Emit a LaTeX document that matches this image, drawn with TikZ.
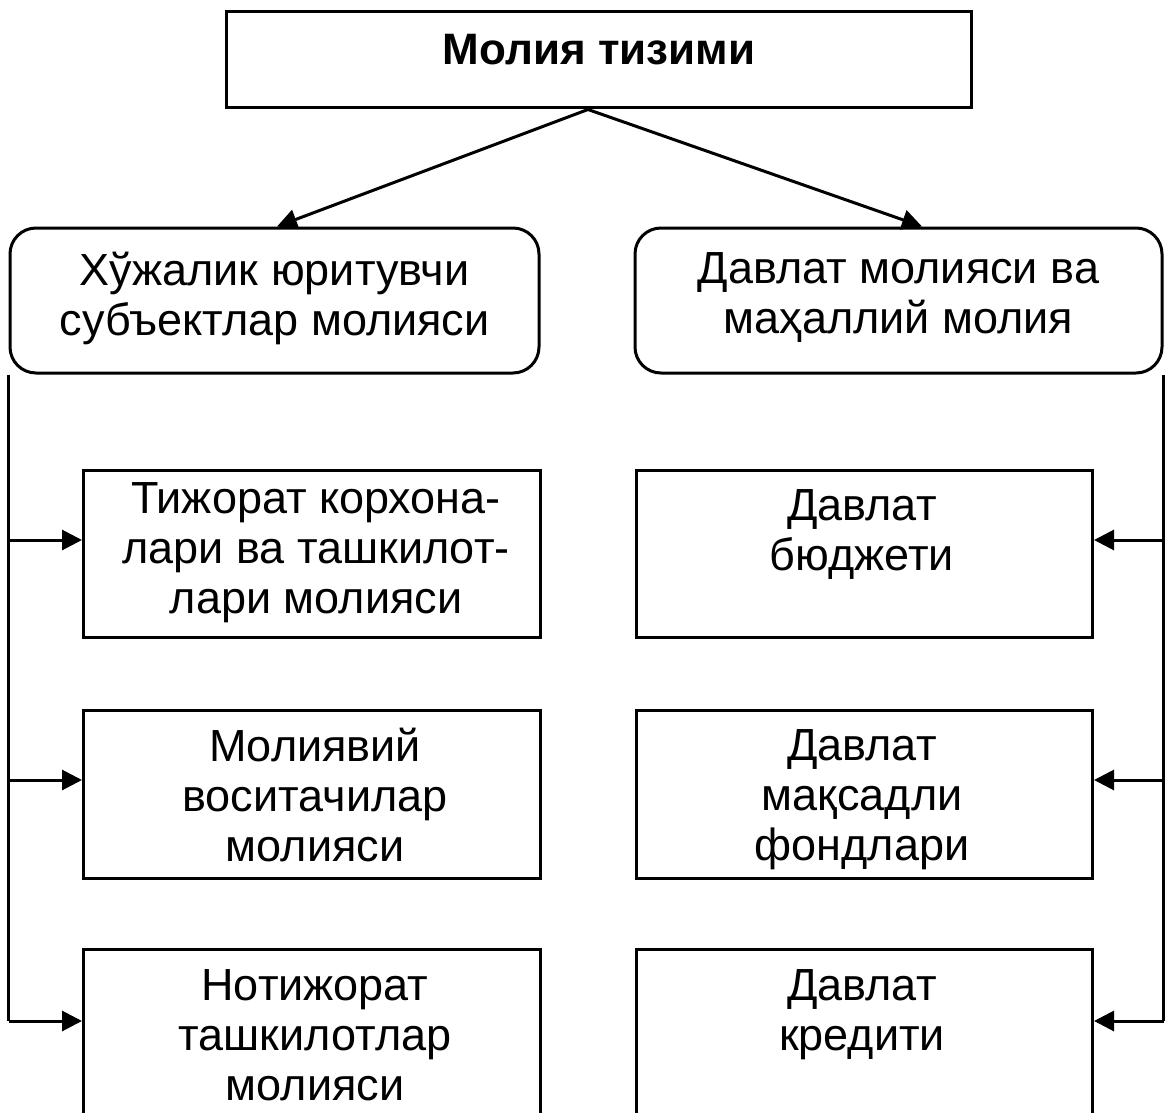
\documentclass[tikz,border=0pt]{standalone}
\usepackage{fontspec}
\setmainfont{Liberation Sans}
\usetikzlibrary{arrows.meta,calc}
\tikzset{
  frame/.style={draw=black, line width=3pt, rectangle, inner sep=0pt},
  roundframe/.style={frame, rounded corners=26pt},
  label/.style={align=center, inner sep=0pt, font=\fontsize{45}{50}\selectfont},
  titlelabel/.style={align=center, inner sep=0pt, font=\fontsize{44}{50}\selectfont\bfseries},
  conn/.style={line width=3pt},
  arr/.style={conn, -{Triangle[length=20pt,width=20pt]}},
}
\begin{document}
\begin{tikzpicture}[x=1pt,y=-1pt]
\useasboundingbox (0,0) rectangle (1168,1113);
% top
\node[frame, minimum width=745pt, minimum height=96pt] (top) at (598.5,60) {};
\node[titlelabel] (toptxt) at (599,50) {Молия тизими};
% second level
\node[roundframe, minimum width=529pt, minimum height=145pt] (L) at (274.5,300.5) {};
\node[roundframe, minimum width=527pt, minimum height=145pt] (R) at (898.5,300.5) {};
\node[label] (Ltxt) at (274.5,298) {Хўжалик юритувчи\\субъектлар молияси};
\node[label] (Rtxt) at (898.5,298) {Давлат молияси ва\\маҳаллий молия};
% left boxes
\node[frame, minimum width=457pt, minimum height=167pt, anchor=north west] (l1) at (82,469) {};
\node[frame, minimum width=457pt, minimum height=168pt, anchor=north west] (l2) at (82,709) {};
\node[frame, minimum width=457pt, minimum height=190pt, anchor=north west] (l3) at (82,948) {};
\node[label] (l1txt) at (316,553) {Тижорат корхона-\\лари ва ташкилот-\\лари молияси};
\node[label] (l2txt) at (315,795) {Молиявий\\воситачилар\\молияси};
\node[label] (l3txt) at (315,1035) {Нотижорат\\ташкилотлар\\молияси};
% right boxes
\node[frame, minimum width=456pt, minimum height=167pt, anchor=north west] (r1) at (635,469) {};
\node[frame, minimum width=456pt, minimum height=168pt, anchor=north west] (r2) at (635,709) {};
\node[frame, minimum width=456pt, minimum height=190pt, anchor=north west] (r3) at (635,948) {};
\node[label] (r1txt) at (862,534) {Давлат\\бюджети};
\node[label] (r2txt) at (862,800) {Давлат\\мақсадли\\фондлари};
\node[label] (r3txt) at (862,1015) {Давлат\\кредити};
% connectors from top
\coordinate (apex) at ($(top.south)+(-10.5,0)$);
\coordinate (Ltip) at ($(L.north)+(2.5,0)$);
\coordinate (Rtip) at ($(R.north)+(23.5,0)$);
\draw[arr] (apex) -- (Ltip);
\draw[arr] (apex) -- (Rtip);
% left bus
\coordinate (la1) at ($(l1.north west)+(0,71)$);
\coordinate (la2) at ($(l2.north west)+(0,71)$);
\coordinate (la3) at ($(l3.north west)+(0,73)$);
\draw[conn] (L.south west) -- (L.south west |- la3);
\draw[arr] (L.south west |- la1) -- (la1);
\draw[arr] (L.south west |- la2) -- (la2);
\draw[arr] (L.south west |- la3) -- (la3);
% right bus
\coordinate (ra1) at ($(r1.north east)+(0,71)$);
\coordinate (ra2) at ($(r2.north east)+(0,71)$);
\coordinate (ra3) at ($(r3.north east)+(0,73)$);
\draw[conn] (R.south east) -- (R.south east |- ra3);
\draw[arr] (R.south east |- ra1) -- (ra1);
\draw[arr] (R.south east |- ra2) -- (ra2);
\draw[arr] (R.south east |- ra3) -- (ra3);
\end{tikzpicture}
\end{document}
